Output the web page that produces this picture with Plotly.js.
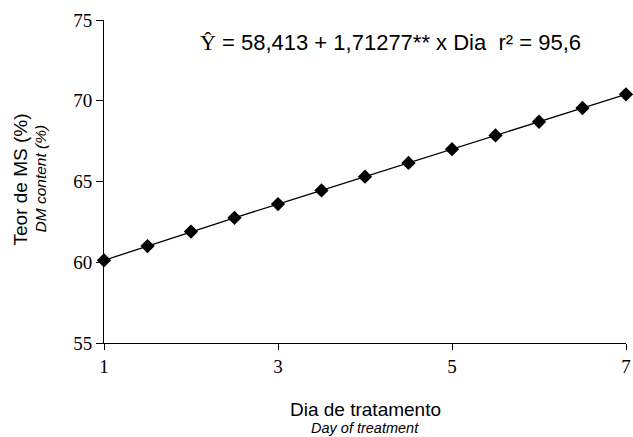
<!DOCTYPE html>
<html>
<head>
<meta charset="utf-8">
<script src="https://cdn.plot.ly/plotly-3.0.1.min.js"></script>
<style>html,body{margin:0;padding:0;background:#fff;}#chart{width:633px;height:437px;}</style>
</head>
<body>
<div id="chart"></div>
<script>
var dias = [1, 1.5, 2, 2.5, 3, 3.5, 4, 4.5, 5, 5.5, 6, 6.5, 7];
var teorMS = [60.12, 61.0, 61.9, 62.75, 63.6, 64.45, 65.3, 66.15, 67.0, 67.85, 68.7, 69.55, 70.4];
var xTicks = [1, 3, 5, 7];
var yTicks = [55, 60, 65, 70, 75];
var equationText = '<span style="font-family:\'Liberation Serif\'">Ŷ</span> = 58,413 + 1,71277** x Dia&nbsp; r² = 95,6';

var trace = {
  x: dias, y: teorMS, type: 'scatter', mode: 'lines+markers',
  line: {color: '#000', width: 1.3},
  marker: {symbol: 'diamond', size: 11, color: '#000'},
  cliponaxis: false, showlegend: false, hoverinfo: 'skip'
};

var layout = {
  width: 633, height: 437,
  margin: {l: 104, r: 7, t: 20, b: 94},
  paper_bgcolor: '#fff', plot_bgcolor: '#fff',
  font: {family: 'Liberation Sans, Arial, sans-serif', color: '#000'},
  xaxis: {
    range: [1, 7], tickvals: xTicks, ticktext: xTicks.map(String),
    showgrid: false, zeroline: false, showline: true, linecolor: '#000', linewidth: 1,
    ticks: 'outside', ticklen: 6, tickcolor: '#000',
    tickfont: {family: 'Liberation Serif, Times New Roman, serif', size: 19, color: '#000'}
  },
  yaxis: {
    range: [55, 75], tickvals: yTicks, ticktext: yTicks.map(String),
    showgrid: false, zeroline: false, showline: true, linecolor: '#000', linewidth: 1,
    ticks: 'outside', ticklen: 7, tickcolor: '#000',
    tickfont: {family: 'Liberation Serif, Times New Roman, serif', size: 19, color: '#000'}
  },
  annotations: [
    {xref: 'paper', yref: 'paper', x: 0.5, y: 0, yshift: -66, text: 'Dia de tratamento',
     showarrow: false, xanchor: 'center', yanchor: 'middle', font: {size: 19, color: '#000'}},
    {xref: 'paper', yref: 'paper', x: 0.5, y: 0, yshift: -85, text: '<i>Day of treatment</i>',
     showarrow: false, xanchor: 'center', yanchor: 'middle', font: {size: 14.5, color: '#000'}},
    {xref: 'paper', yref: 'paper', x: 0, xshift: -84, y: 0.5, yshift: 2, text: 'Teor de MS (%)', textangle: -90,
     showarrow: false, xanchor: 'center', yanchor: 'middle', font: {size: 19, color: '#000'}},
    {xref: 'paper', yref: 'paper', x: 0, xshift: -64, y: 0.5, yshift: 3, text: '<i>DM content (%)</i>', textangle: -90,
     showarrow: false, xanchor: 'center', yanchor: 'middle', font: {size: 15.5, color: '#000'}},
    {xref: 'paper', yref: 'paper', x: 0, xshift: 94, y: 1, yshift: -22, text: equationText,
     showarrow: false, xanchor: 'left', yanchor: 'middle', font: {size: 22, color: '#000'}}
  ]
};

Plotly.newPlot('chart', [trace], layout, {staticPlot: true, displayModeBar: false});
</script>
</body>
</html>
